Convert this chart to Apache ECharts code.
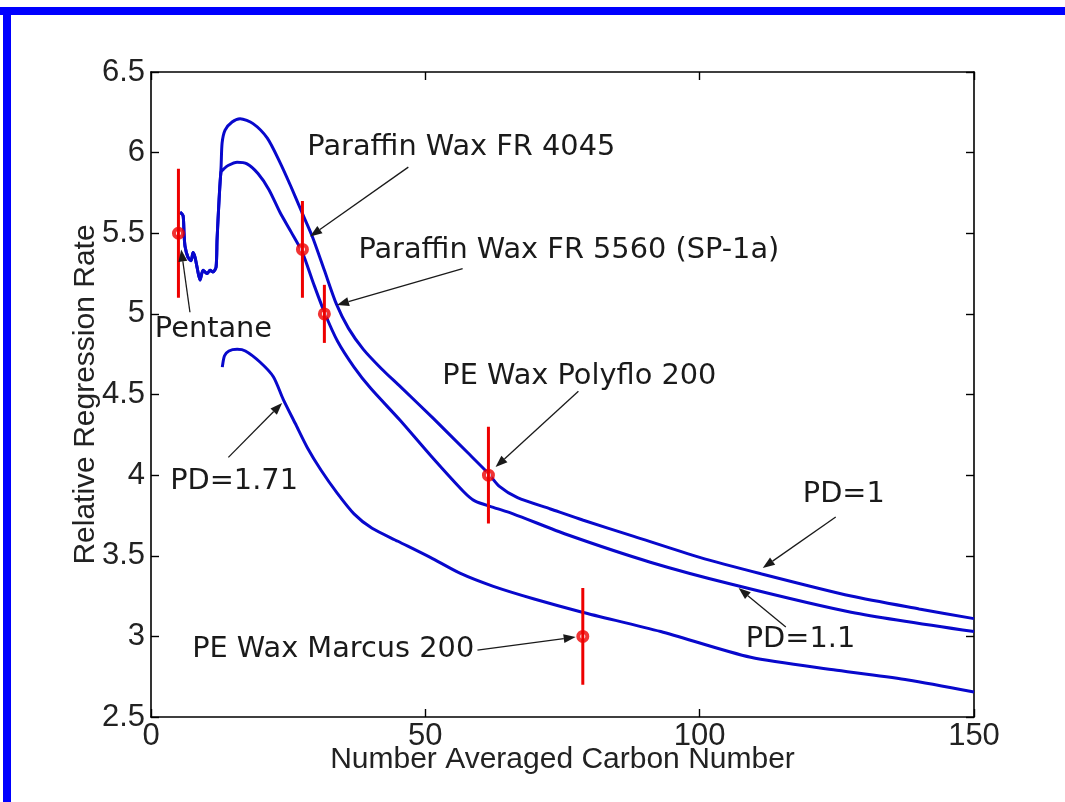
<!DOCTYPE html>
<html>
<head>
<meta charset="utf-8">
<title>Relative Regression Rate vs Number Averaged Carbon Number</title>
<script src="https://cdn.jsdelivr.net/npm/echarts@6/dist/echarts.min.js"></script>
<style>
  html, body { margin: 0; padding: 0; background: #ffffff; }
  #chart { width: 1065px; height: 802px; }
</style>
</head>
<body>
<div id="chart"></div>
<script>
// Model curves: [carbon number, relative regression rate]
const curvePD1 = [
  [5.3, 5.63], [5.84, 5.61], [6.02, 5.50], [6.2, 5.42], [6.75, 5.35], [7.3, 5.33],
  [7.66, 5.38], [8.03, 5.35], [8.39, 5.29], [8.94, 5.21], [9.49, 5.27], [10.22, 5.25],
  [10.77, 5.27], [11.31, 5.26], [11.86, 5.29], [12.04, 5.46], [12.41, 5.71], [12.77, 5.91],
  [12.96, 6.06], [13.5, 6.14], [14.78, 6.19], [16.24, 6.21], [18.6, 6.18], [21.2, 6.09],
  [23.5, 5.94], [25.5, 5.79], [27.5, 5.63], [29.4, 5.48], [31.6, 5.27], [33.8, 5.06],
  [36, 4.91], [38.7, 4.78], [42, 4.66], [45.4, 4.55], [51.5, 4.35], [57.7, 4.14],
  [61.5, 4.01], [63.5, 3.93], [66.8, 3.86], [72.8, 3.79], [78.8, 3.72], [88, 3.62],
  [100, 3.49], [111, 3.39], [127.6, 3.25], [140, 3.17], [150, 3.11]
];
const curvePD11 = [
  [5.3, 5.63], [5.84, 5.61], [6.02, 5.50], [6.2, 5.42], [6.75, 5.35], [7.3, 5.33],
  [7.66, 5.38], [8.03, 5.35], [8.39, 5.29], [8.94, 5.21], [9.49, 5.27], [10.22, 5.25],
  [10.77, 5.27], [11.31, 5.26], [11.86, 5.29], [12.04, 5.46], [12.41, 5.71], [12.77, 5.88],
  [13.3, 5.90], [14.05, 5.92], [15.69, 5.94], [17.5, 5.93], [19.5, 5.87], [21.5, 5.77],
  [23.5, 5.63], [25.5, 5.51], [27.6, 5.38], [29.6, 5.19], [31.6, 5.01], [34, 4.83],
  [37, 4.67], [40, 4.54], [45.4, 4.34], [51, 4.12], [56.9, 3.90], [59, 3.84],
  [62.4, 3.80], [66, 3.76], [75.9, 3.63], [91, 3.46], [106.2, 3.32], [127.6, 3.15],
  [150, 3.03]
];
const curvePD171 = [
  [13.0, 4.67], [13.4, 4.74], [14.2, 4.77], [15.7, 4.78], [17.2, 4.77], [19.9, 4.70],
  [22.3, 4.61], [24.1, 4.47], [26.3, 4.32], [28.5, 4.17], [31, 4.03], [33.9, 3.89],
  [37, 3.76], [40.3, 3.67], [45, 3.59], [50.9, 3.49], [56.4, 3.39], [62.4, 3.31],
  [70, 3.23], [78.6, 3.15], [92.9, 3.03], [109.3, 2.87], [125, 2.79], [138, 2.73],
  [150, 2.655]
];

// Measured fuels: name, carbon number, rate, error half-width
const fuelNames = ['Pentane', 'Paraffin Wax FR 4045', 'Paraffin Wax FR 5560 (SP-1a)', 'PE Wax Polyflo 200', 'PE Wax Marcus 200'];
const fuelCarbon = [5, 27.6, 31.6, 61.5, 78.7];
const fuelRate = [5.5, 5.4, 5.0, 4.0, 3.0];
const fuelError = [0.4, 0.3, 0.18, 0.3, 0.3];

// Callout labels and their arrows, in data coordinates
const noteText = ['Pentane', 'Paraffin Wax FR 4045', 'Paraffin Wax FR 5560 (SP-1a)', 'PE Wax Polyflo 200',
  'PD=1.71', 'PD=1', 'PD=1.1', 'PE Wax Marcus 200'];
const noteAt = [[0.7, 4.90], [28.5, 6.03], [37.8, 5.39], [53.1, 4.61], [3.5, 3.96], [118.8, 3.88], [108.4, 2.98], [7.5, 2.92]];
const noteFrom = [[7.1, 5.01], [46.9, 5.91], [56.8, 5.28], [77.9, 4.52], [14.1, 4.11], [124.8, 3.74], [115.7, 3.058], [59.5, 2.915]];
const noteTo = [[5.5, 5.40], [29.0, 5.48], [33.9, 5.055], [62.8, 4.05], [23.9, 4.447], [111.5, 3.424], [107.1, 3.30], [77.4, 2.996]];

const chart = echarts.init(document.getElementById('chart'), null, { renderer: 'canvas' });

const blue = '#0808cc';
const red = '#ee0000';
const ink = '#1a1a1a';
const tickFont = { fontFamily: 'Liberation Sans', fontSize: 31, color: '#222' };

const errData = fuelCarbon.map((x, i) => [x, fuelRate[i], fuelError[i]]);
const ptData = fuelCarbon.map((x, i) => [x, fuelRate[i]]);

const axisCommon = {
  axisLine: { show: true, onZero: false, lineStyle: { color: '#000', width: 1.6 } },
  axisTick: { show: true, inside: true, length: 8, lineStyle: { color: '#000', width: 1.4 } },
  splitLine: { show: false }
};

const curveStyle = { color: blue, width: 3 };

chart.setOption({
  backgroundColor: '#ffffff',
  animation: false,
  grid: { left: 151, right: 91, top: 72, bottom: 85, containLabel: false },
  xAxis: [
    Object.assign({
      type: 'value', min: 0, max: 150, interval: 50, position: 'bottom',
      name: 'Number Averaged Carbon Number', nameLocation: 'middle', nameGap: 28,
      nameMoveOverlap: false,
      nameTextStyle: { fontFamily: 'Liberation Sans', fontSize: 30, color: '#222' },
      axisLabel: Object.assign({ margin: 4 }, tickFont)
    }, axisCommon),
    Object.assign({
      type: 'value', min: 0, max: 150, interval: 50, position: 'top',
      axisLabel: { show: false }
    }, axisCommon)
  ],
  yAxis: [
    Object.assign({
      type: 'value', min: 2.5, max: 6.5, interval: 0.5, position: 'left',
      name: 'Relative Regression Rate', nameLocation: 'middle', nameGap: 50, nameRotate: 90,
      nameMoveOverlap: false,
      nameTextStyle: { fontFamily: 'Liberation Sans', fontSize: 30, color: '#222' },
      axisLabel: Object.assign({ margin: 6 }, tickFont)
    }, axisCommon),
    Object.assign({
      type: 'value', min: 2.5, max: 6.5, interval: 0.5, position: 'right',
      axisLabel: { show: false }
    }, axisCommon)
  ],
  series: [
    { name: 'PD=1', type: 'line', data: curvePD1, showSymbol: false, smooth: 0.25,
      lineStyle: curveStyle, z: 2 },
    { name: 'PD=1.1', type: 'line', data: curvePD11, showSymbol: false, smooth: 0.25,
      lineStyle: curveStyle, z: 2 },
    { name: 'PD=1.71', type: 'line', data: curvePD171, showSymbol: false, smooth: 0.25,
      lineStyle: curveStyle, z: 2 },
    { name: 'Measured', type: 'scatter', data: ptData, symbol: 'circle', symbolSize: 9,
      itemStyle: { color: '#ffffff', borderColor: red, borderWidth: 4 }, z: 4 },
    { name: 'Error', type: 'custom', data: errData, z: 5,
      renderItem: function (params, api) {
        const x = api.value(0), y = api.value(1), e = api.value(2);
        const lo = api.coord([x, y - e]);
        const hi = api.coord([x, y + e]);
        return { type: 'line', shape: { x1: lo[0], y1: lo[1], x2: hi[0], y2: hi[1] },
          style: { stroke: red, lineWidth: 3 } };
      }
    }
  ]
});

// Callouts: text plus arrow, placed through the grid's coordinate system
function buildGraphics() {
  const els = [
    { type: 'rect', shape: { x: 0, y: 7, width: 1065, height: 8 }, style: { fill: '#0000ff' }, z: 100 },
    { type: 'rect', shape: { x: 3, y: 7, width: 8, height: 795 }, style: { fill: '#0000ff' }, z: 100 }
  ];
  noteText.forEach((t, i) => {
    const p = chart.convertToPixel({ gridIndex: 0 }, noteAt[i]);
    const a = chart.convertToPixel({ gridIndex: 0 }, noteFrom[i]);
    const b = chart.convertToPixel({ gridIndex: 0 }, noteTo[i]);
    els.push({ type: 'text', x: p[0], y: p[1], z: 50,
      style: { text: t, fontFamily: 'DejaVu Sans', fontSize: 28.8, fill: ink,
        align: 'left', verticalAlign: 'middle' } });
    const dx = b[0] - a[0], dy = b[1] - a[1];
    const len = Math.sqrt(dx * dx + dy * dy);
    const ux = dx / len, uy = dy / len;
    const headLen = 12, headHalf = 4.5;
    const bx = b[0] - ux * headLen, by = b[1] - uy * headLen;
    els.push({ type: 'line', z: 50,
      shape: { x1: a[0], y1: a[1], x2: bx, y2: by },
      style: { stroke: ink, lineWidth: 1.3 } });
    els.push({ type: 'polygon', z: 50,
      shape: { points: [[b[0], b[1]], [bx - uy * headHalf, by + ux * headHalf], [bx + uy * headHalf, by - ux * headHalf]] },
      style: { fill: ink } });
  });
  chart.setOption({ graphic: els });
}
buildGraphics();
</script>
</body>
</html>
